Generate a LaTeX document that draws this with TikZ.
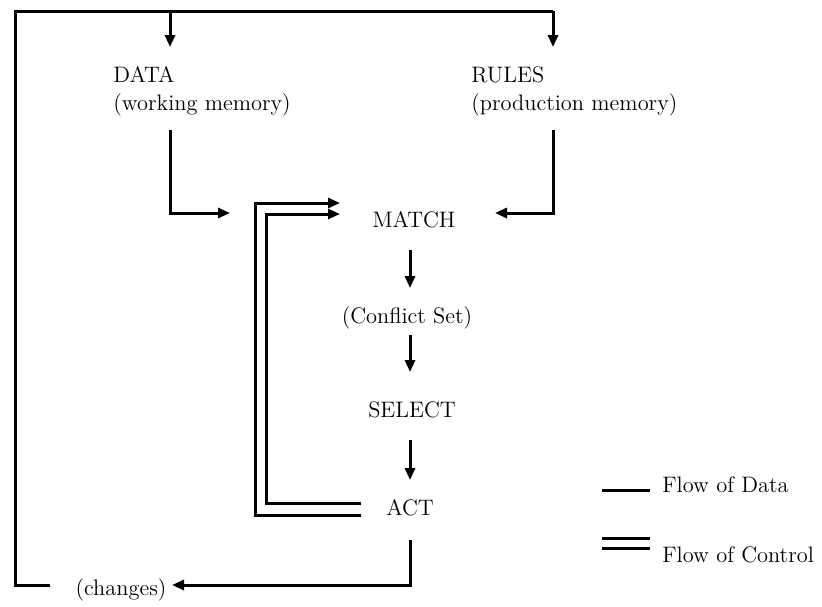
\documentclass[tikz,border=0pt]{standalone}
\usetikzlibrary{arrows.meta}
\begin{document}
\begin{tikzpicture}[x=0.5pt,y=-0.5pt,
  font=\fontsize{11.2}{14}\selectfont,
  flow/.style={line width=1.5pt},
  arr/.style={flow,-{Triangle[length=6pt,width=5pt]}},
  lbl/.style={inner sep=0pt}]
\useasboundingbox (0,0) rectangle (822,606);

% text nodes
\node[lbl,anchor=west,align=left] (data) at (113,91) {DATA\\(working memory)};
\node[lbl,anchor=west,align=left] (rules) at (471,91) {RULES\\(production memory)};
\node[lbl] (match) at (414,220) {MATCH};
\node[lbl] (cs) at (407,318) {(Conflict Set)};
\node[lbl] (select) at (412,410) {SELECT};
\node[lbl] (act) at (410,508) {ACT};
\node[lbl] (changes) at (121,590) {(changes)};
\node[lbl,anchor=west] (ldata) at (662,485) {Flow of Data};
\node[lbl,anchor=west] (lctrl) at (662,555) {Flow of Control};

% junction points
\coordinate (loopend) at (50,585);
\coordinate (loopcorner) at (15,585);
\coordinate (topleft) at (15,11);
\coordinate (topright) at (553,11);
\coordinate (datatop) at (170,11);
\coordinate (datain) at (170,47);
\coordinate (rulesin) at (553,47);
\coordinate (dataout) at (170,130);
\coordinate (rulesout) at (553,130);
\coordinate (matchL) at (230,213);
\coordinate (matchR) at (495,213);
\coordinate (ctlA) at (340,203);
\coordinate (ctlB) at (340,214);
\coordinate (actA) at (361,515);
\coordinate (actB) at (361,503);
\coordinate (actout) at (410,540);
\coordinate (chin) at (172,585);

% feedback loop of changes back to memory
\draw[flow] (loopend) -- (loopcorner) -- (topleft) -- (topright);
\draw[arr] (datatop) -- (datain);
\draw[arr] (topright) -- (rulesin);

% data flow into MATCH
\draw[arr] (dataout) |- (matchL);
\draw[arr] (rulesout) |- (matchR);

% recognize-act cycle
\draw[arr] (410,250) -- (410,288);
\draw[arr] (410,335) -- (410,372);
\draw[arr] (410,440) -- (410,480);
\draw[arr] (actout) |- (chin);

% control flow from ACT back to MATCH
\draw[arr] (actA) -| (255,203) -- (ctlA);
\draw[arr] (actB) -| (266,214) -- (ctlB);

% legend
\draw[flow] (602,490) -- (650,490);
\draw[flow] (602,538) -- (650,538);
\draw[flow] (602,548) -- (650,548);
\end{tikzpicture}
\end{document}
